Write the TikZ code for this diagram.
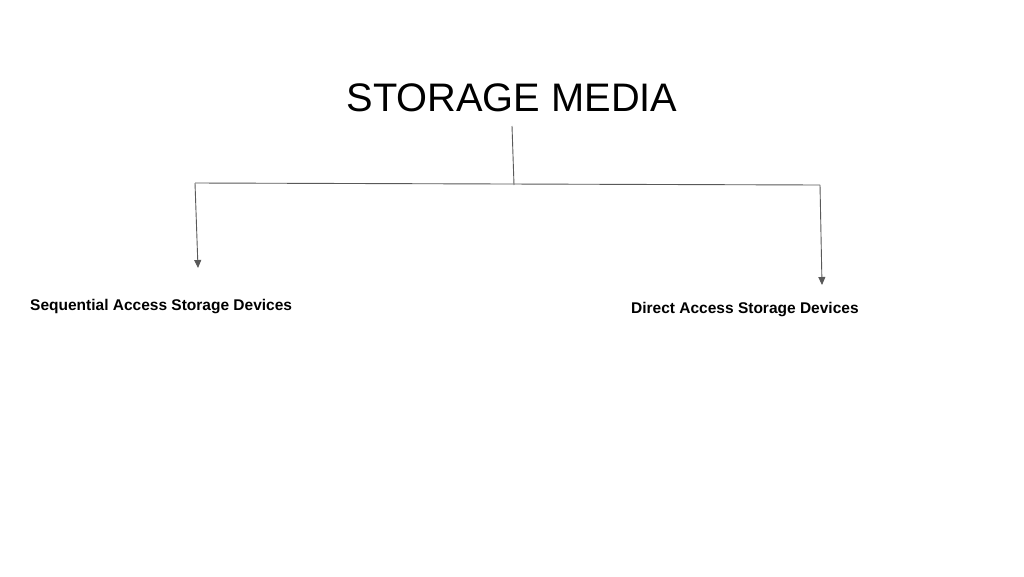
\documentclass[tikz,border=0pt]{standalone}
\usepackage{fontspec}
\setmainfont{Liberation Sans}
\usetikzlibrary{arrows.meta}
\definecolor{linegray}{HTML}{595959}
\tikzset{
  conn/.style={draw=linegray, line width=0.9pt},
  arr/.style={conn, -{Triangle[length=8pt,width=7pt]}},
  title/.style={font=\fontsize{39.8}{46}\selectfont, inner sep=0pt, anchor=center},
  leaf/.style={font=\bfseries\fontsize{15.5}{18}\selectfont, inner sep=0pt, anchor=west}
}
\begin{document}
\begin{tikzpicture}[x=1pt,y=-1pt]
\useasboundingbox (0,0) rectangle (1024,576);
\fill[white] (0,0) rectangle (1024,576);
\node[title] (storage) at (512,98) {STORAGE MEDIA};
\node[leaf] (seq) at (30,307) {Sequential Access Storage Devices};
\node[leaf] (dir) at (631,310) {Direct Access Storage Devices};
\coordinate (top) at (512,126);
\coordinate (junc) at (514,185);
\coordinate (lc) at (195,183);
\coordinate (rc) at (820,185);
\coordinate (la) at (198,268);
\coordinate (ra) at (822,285);
\draw[conn] (top) -- (junc);
\draw[conn] (lc) -- (rc);
\draw[arr] (lc) -- (la);
\draw[arr] (rc) -- (ra);
\end{tikzpicture}
\end{document}
